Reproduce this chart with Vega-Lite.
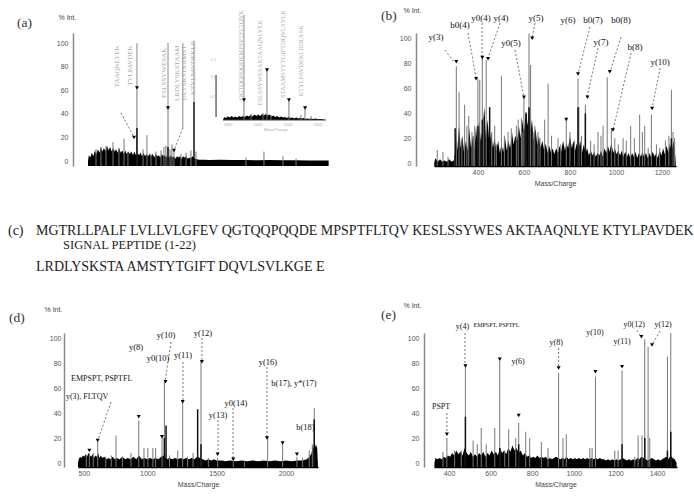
{
"$schema": "https://vega.github.io/schema/vega-lite/v6.json",
"background": "white",
"padding": {"left": 7, "top": 6, "right": 2, "bottom": 2},
"columns": 2,
"bounds": "flush",
"align": "each",
"spacing": {"row": 49, "column": 105},
"config": {
 "view": {"stroke": null},
 "axisX": {"format": "d", "domainColor": "#000", "domainWidth": 1.5, "ticks": false, "labelPadding": 2, "titlePadding": 4, "labelFontSize": 7, "labelColor": "#555", "labelFont": "Liberation Sans", "titleFont": "Liberation Sans", "titleFontSize": 7, "titleFontWeight": "normal", "titleColor": "#444", "grid": false},
 "axisY": {"format": "d", "domainColor": "#888", "domainWidth": 1.5, "ticks": false, "labelPadding": 5, "labelFontSize": 7, "labelColor": "#555", "labelFont": "Liberation Sans", "titleFont": "Liberation Sans", "titleFontSize": 7, "titleFontWeight": "normal", "titleColor": "#444", "titleAngle": 0, "titleAlign": "left", "titleBaseline": "middle", "grid": false}
},
"datasets": {
 "a_base": [{"mz":662,"int":0},{"mz":668,"int":5},{"mz":680,"int":3},{"mz":692,"int":7},{"mz":704,"int":4},{"mz":716,"int":9},{"mz":728,"int":6},{"mz":740,"int":10},{"mz":752,"int":7},{"mz":764,"int":12},{"mz":776,"int":8},{"mz":788,"int":11},{"mz":800,"int":8},{"mz":812,"int":13},{"mz":824,"int":9},{"mz":836,"int":12},{"mz":848,"int":8},{"mz":860,"int":11},{"mz":872,"int":8},{"mz":884,"int":10},{"mz":896,"int":7},{"mz":908,"int":11},{"mz":920,"int":7},{"mz":932,"int":9},{"mz":944,"int":6},{"mz":956,"int":9},{"mz":968,"int":6},{"mz":980,"int":8},{"mz":992,"int":6},{"mz":1004,"int":8},{"mz":1016,"int":5},{"mz":1028,"int":8},{"mz":1040,"int":5},{"mz":1052,"int":7},{"mz":1064,"int":5},{"mz":1076,"int":7},{"mz":1088,"int":4},{"mz":1100,"int":7},{"mz":1112,"int":4},{"mz":1124,"int":6},{"mz":1136,"int":4},{"mz":1148,"int":6},{"mz":1160,"int":4},{"mz":1172,"int":6},{"mz":1184,"int":3},{"mz":1196,"int":6},{"mz":1208,"int":4},{"mz":1220,"int":5},{"mz":1232,"int":3},{"mz":1244,"int":6},{"mz":1256,"int":4},{"mz":1268,"int":5},{"mz":1280,"int":3},{"mz":1292,"int":5},{"mz":1304,"int":3},{"mz":1316,"int":5},{"mz":1328,"int":3},{"mz":1340,"int":4},{"mz":1352,"int":2},{"mz":1364,"int":4},{"mz":1376,"int":3},{"mz":1388,"int":4},{"mz":1400,"int":2},{"mz":1412,"int":4},{"mz":1424,"int":3},{"mz":1436,"int":4},{"mz":1448,"int":2},{"mz":1460,"int":3},{"mz":1472,"int":2},{"mz":1484,"int":4},{"mz":1496,"int":3},{"mz":1508,"int":2},{"mz":1520,"int":1.5},{"mz":1540,"int":1},{"mz":1580,"int":1.2},{"mz":1620,"int":0.8},{"mz":1700,"int":1},{"mz":1800,"int":0.8},{"mz":1900,"int":0.9},{"mz":2000,"int":0.7},{"mz":2100,"int":0.8},{"mz":2200,"int":0.6},{"mz":2300,"int":0.6},{"mz":2400,"int":0.5},{"mz":2500,"int":0.5},{"mz":2560,"int":0.4}],
 "a_peaks": [{"mz":725,"int":10},{"mz":764,"int":12},{"mz":804,"int":13},{"mz":859,"int":16},{"mz":906,"int":11},{"mz":946,"int":19},{"mz":977,"int":8},{"mz":1048,"int":62},{"mz":1096,"int":10},{"mz":1127,"int":22},{"mz":1159,"int":6},{"mz":1198,"int":8},{"mz":1238,"int":9},{"mz":1261,"int":12},{"mz":1277,"int":13},{"mz":1293,"int":45},{"mz":1309,"int":10},{"mz":1324,"int":14},{"mz":1340,"int":9},{"mz":1395,"int":6},{"mz":1435,"int":7},{"mz":1474,"int":9},{"mz":1514,"int":8},{"mz":1908,"int":3},{"mz":2050,"int":8},{"mz":2200,"int":4},{"mz":2303,"int":2}],
 "a_dark": [{"mz":1048,"int":28},{"mz":1293,"int":12},{"mz":1498,"int":50}],
 "a_lead": [{"mz":1048,"int":62,"mz2":1048,"int2":100},{"mz":1293,"int":45,"mz2":1293,"int2":100},{"mz":1498,"int":50,"mz2":1498,"int2":102},{"mz":1410,"int":28,"mz2":1410,"int2":100}],
 "a_dash": [{"mz":922,"int":41,"mz2":1025,"int2":20},{"mz":1410,"int":28,"mz2":1340,"int2":9}],
 "a_marks": [{"mz":1048,"int":62},{"mz":1293,"int":45},{"mz":1025,"int":20},{"mz":1340,"int":9}],
 "a_seq": [{"mz":891,"int":98,"label":"TAAQNLYEK"},{"mz":994,"int":98,"label":"TYLPAVDEK"},{"mz":1261,"int":96,"label":"ESLSSYWESAK"},{"mz":1364,"int":98,"label":"LRDLYSKSTAAM"},{"mz":1419,"int":98,"label":"DLYSKSTAAMST"},{"mz":1490,"int":102,"label":"KTYLPAVDEKLR"}],
 "a_tag": [{"mz":102,"int":117,"label":"(a)"}],
 "ai_base": [{"mz":1727,"int":0},{"mz":1735,"int":6},{"mz":1750,"int":4},{"mz":1765,"int":7},{"mz":1780,"int":5},{"mz":1795,"int":8},{"mz":1810,"int":5},{"mz":1825,"int":7},{"mz":1840,"int":5},{"mz":1855,"int":8},{"mz":1870,"int":6},{"mz":1885,"int":8},{"mz":1900,"int":6},{"mz":1915,"int":9},{"mz":1930,"int":7},{"mz":1945,"int":10},{"mz":1960,"int":7},{"mz":1975,"int":11},{"mz":1990,"int":8},{"mz":2005,"int":11},{"mz":2020,"int":8},{"mz":2035,"int":12},{"mz":2050,"int":9},{"mz":2065,"int":12},{"mz":2080,"int":9},{"mz":2095,"int":11},{"mz":2110,"int":7},{"mz":2125,"int":9},{"mz":2140,"int":6},{"mz":2155,"int":8},{"mz":2170,"int":5},{"mz":2185,"int":7},{"mz":2200,"int":5},{"mz":2215,"int":6},{"mz":2230,"int":4},{"mz":2245,"int":6},{"mz":2260,"int":4},{"mz":2275,"int":5},{"mz":2290,"int":3},{"mz":2305,"int":5},{"mz":2320,"int":3},{"mz":2335,"int":4},{"mz":2350,"int":3},{"mz":2365,"int":4},{"mz":2380,"int":2},{"mz":2395,"int":3},{"mz":2410,"int":2},{"mz":2425,"int":3},{"mz":2440,"int":2},{"mz":2455,"int":3},{"mz":2470,"int":2},{"mz":2500,"int":2},{"mz":2539,"int":0}],
 "ai_peaks": [{"mz":1892,"int":40},{"mz":1948,"int":12},{"mz":2042,"int":14},{"mz":2074,"int":100},{"mz":2105,"int":10},{"mz":2247,"int":40},{"mz":2342,"int":10},{"mz":2374,"int":24},{"mz":2421,"int":8}],
 "ai_lead": [{"mz":1892,"int":40,"mz2":1892,"int2":210}],
 "ai_axis": [{"mz":1727,"int":0,"mz2":2539,"int2":0},{"mz":1672,"int":6,"mz2":1672,"int2":90}],
 "ai_marks": [{"mz":1892,"int":40},{"mz":2074,"int":100},{"mz":2247,"int":40},{"mz":2374,"int":24}],
 "ai_seq": [{"mz":1869,"int":220,"label":"QGTQQPQQDEMPSPTFLTQVK"},{"mz":2019,"int":200,"label":"ESLSSYWESAKTAAQNLYEK"},{"mz":2200,"int":220,"label":"STAAMSTYTGIFTDQVLSVLK"},{"mz":2342,"int":190,"label":"KTYLPAVDEKLRDLYSK"}],
 "ai_ticks": [{"mz":1650,"int":120,"label":"1.5"},{"mz":1650,"int":86,"label":"1.0"},{"mz":1650,"int":46,"label":"0.5"},{"mz":1766,"int":-9,"label":"1800"},{"mz":2003,"int":-9,"label":"2000"},{"mz":2240,"int":-9,"label":"2200"},{"mz":2476,"int":-9,"label":"2400"},{"mz":2145,"int":-19,"label":"Mass/Charge"}],
 "b_base": [{"mz":210,"int":0},{"mz":215,"int":4},{"mz":225,"int":1},{"mz":235,"int":3},{"mz":245,"int":1},{"mz":255,"int":2},{"mz":265,"int":1},{"mz":275,"int":3},{"mz":285,"int":1},{"mz":295,"int":2},{"mz":300,"int":8},{"mz":305,"int":25},{"mz":310,"int":10},{"mz":318,"int":30},{"mz":325,"int":12},{"mz":332,"int":22},{"mz":340,"int":8},{"mz":348,"int":18},{"mz":355,"int":10},{"mz":362,"int":28},{"mz":370,"int":12},{"mz":378,"int":22},{"mz":385,"int":10},{"mz":392,"int":30},{"mz":398,"int":15},{"mz":405,"int":34},{"mz":412,"int":18},{"mz":420,"int":28},{"mz":428,"int":45},{"mz":435,"int":20},{"mz":442,"int":35},{"mz":450,"int":15},{"mz":458,"int":25},{"mz":465,"int":12},{"mz":472,"int":20},{"mz":480,"int":10},{"mz":488,"int":18},{"mz":495,"int":8},{"mz":502,"int":15},{"mz":510,"int":9},{"mz":518,"int":20},{"mz":525,"int":10},{"mz":532,"int":18},{"mz":540,"int":12},{"mz":548,"int":25},{"mz":555,"int":15},{"mz":562,"int":22},{"mz":570,"int":18},{"mz":578,"int":30},{"mz":585,"int":20},{"mz":592,"int":35},{"mz":600,"int":25},{"mz":608,"int":42},{"mz":615,"int":30},{"mz":622,"int":45},{"mz":628,"int":25},{"mz":635,"int":35},{"mz":642,"int":18},{"mz":650,"int":28},{"mz":658,"int":15},{"mz":665,"int":22},{"mz":672,"int":12},{"mz":680,"int":18},{"mz":688,"int":10},{"mz":695,"int":16},{"mz":702,"int":8},{"mz":710,"int":14},{"mz":718,"int":8},{"mz":725,"int":12},{"mz":732,"int":7},{"mz":740,"int":12},{"mz":748,"int":8},{"mz":755,"int":14},{"mz":762,"int":9},{"mz":770,"int":18},{"mz":778,"int":10},{"mz":785,"int":16},{"mz":792,"int":12},{"mz":800,"int":22},{"mz":808,"int":12},{"mz":815,"int":18},{"mz":822,"int":10},{"mz":830,"int":16},{"mz":838,"int":12},{"mz":845,"int":18},{"mz":852,"int":8},{"mz":860,"int":15},{"mz":868,"int":8},{"mz":875,"int":12},{"mz":882,"int":6},{"mz":890,"int":10},{"mz":898,"int":6},{"mz":905,"int":9},{"mz":912,"int":5},{"mz":920,"int":8},{"mz":928,"int":6},{"mz":935,"int":10},{"mz":942,"int":5},{"mz":950,"int":12},{"mz":958,"int":8},{"mz":965,"int":14},{"mz":972,"int":9},{"mz":980,"int":16},{"mz":988,"int":8},{"mz":995,"int":12},{"mz":1002,"int":7},{"mz":1010,"int":10},{"mz":1018,"int":6},{"mz":1025,"int":10},{"mz":1032,"int":5},{"mz":1040,"int":9},{"mz":1048,"int":5},{"mz":1055,"int":8},{"mz":1062,"int":4},{"mz":1070,"int":8},{"mz":1078,"int":5},{"mz":1085,"int":9},{"mz":1092,"int":4},{"mz":1100,"int":8},{"mz":1108,"int":5},{"mz":1115,"int":9},{"mz":1122,"int":5},{"mz":1130,"int":8},{"mz":1138,"int":4},{"mz":1145,"int":8},{"mz":1152,"int":5},{"mz":1160,"int":9},{"mz":1168,"int":5},{"mz":1175,"int":8},{"mz":1182,"int":4},{"mz":1190,"int":10},{"mz":1198,"int":6},{"mz":1205,"int":12},{"mz":1212,"int":7},{"mz":1220,"int":14},{"mz":1228,"int":8},{"mz":1235,"int":16},{"mz":1242,"int":9},{"mz":1250,"int":18},{"mz":1256,"int":10},{"mz":1260,"int":0}],
 "b_peaks": [{"mz":223,"int":10.5},{"mz":248,"int":9},{"mz":270,"int":5},{"mz":299,"int":5},{"mz":306,"int":78},{"mz":318,"int":57},{"mz":330,"int":20},{"mz":342,"int":47},{"mz":352,"int":30},{"mz":360,"int":38},{"mz":374,"int":25},{"mz":380,"int":22},{"mz":386,"int":30},{"mz":400,"int":68},{"mz":408,"int":67},{"mz":419,"int":86},{"mz":425,"int":35},{"mz":436,"int":83},{"mz":460,"int":25},{"mz":473,"int":30},{"mz":480,"int":15},{"mz":502,"int":70},{"mz":515,"int":22},{"mz":531,"int":25},{"mz":545,"int":28},{"mz":567,"int":30},{"mz":575,"int":35},{"mz":589,"int":36},{"mz":595,"int":25},{"mz":600,"int":53},{"mz":610,"int":41},{"mz":622,"int":104.5},{"mz":629,"int":79},{"mz":640,"int":25},{"mz":647,"int":30},{"mz":661,"int":25},{"mz":670,"int":20},{"mz":690,"int":35},{"mz":705,"int":64},{"mz":720,"int":22},{"mz":748,"int":20},{"mz":760,"int":15},{"mz":784,"int":36},{"mz":800,"int":25},{"mz":820,"int":18},{"mz":835,"int":68},{"mz":839,"int":45},{"mz":850,"int":22},{"mz":867,"int":47},{"mz":890,"int":18},{"mz":905,"int":15},{"mz":922,"int":25},{"mz":935,"int":22},{"mz":944,"int":30},{"mz":962,"int":69},{"mz":980,"int":28},{"mz":995,"int":20},{"mz":1010,"int":15},{"mz":1031,"int":20},{"mz":1045,"int":18},{"mz":1064,"int":30},{"mz":1080,"int":20},{"mz":1103,"int":39},{"mz":1115,"int":25},{"mz":1125,"int":30},{"mz":1140,"int":12},{"mz":1154,"int":39},{"mz":1176,"int":15},{"mz":1190,"int":12},{"mz":1215,"int":18},{"mz":1230,"int":22},{"mz":1241,"int":59},{"mz":1248,"int":25},{"mz":1255,"int":20}],
 "b_dark": [{"mz":301,"int":28},{"mz":400,"int":30},{"mz":419,"int":35},{"mz":451,"int":45},{"mz":610,"int":40},{"mz":622,"int":45},{"mz":835,"int":45},{"mz":867,"int":40},{"mz":1241,"int":20}],
 "b_marks": [{"mz":306,"int":81.6},{"mz":392,"int":68},{"mz":419,"int":85},{"mz":444,"int":84},{"mz":600,"int":53},{"mz":636,"int":100.5},{"mz":784,"int":35},{"mz":835,"int":71.7},{"mz":876,"int":53},{"mz":973,"int":73.6},{"mz":987,"int":26.6},{"mz":1157,"int":44}],
 "b_dash": [{"mz":257,"int":91,"mz2":296,"int2":81.4},{"mz":357,"int":104.8,"mz2":392,"int2":68.5},{"mz":418,"int":112.8,"mz2":418,"int2":85.4},{"mz":496,"int":112.8,"mz2":444,"int2":84.6},{"mz":561,"int":91,"mz2":600,"int2":53},{"mz":648,"int":112.8,"mz2":635,"int2":100.7},{"mz":887,"int":109.6,"mz2":835,"int2":71.7},{"mz":922,"int":92.7,"mz2":874,"int2":53},{"mz":1022,"int":101.6,"mz2":974,"int2":73.3},{"mz":1066,"int":88.7,"mz2":987,"int2":26.6},{"mz":1192,"int":76.6,"mz2":1157,"int2":44.3}],
 "b_labels": [{"mz":217.7,"int":101.6,"label":"y(3)"},{"mz":322,"int":111,"label":"b0(4)"},{"mz":413,"int":117,"label":"y0(4)"},{"mz":500,"int":117,"label":"y(4)"},{"mz":544,"int":96.7,"label":"y0(5)"},{"mz":652.5,"int":117,"label":"y(5)"},{"mz":792,"int":115,"label":"y(6)"},{"mz":900,"int":115,"label":"b0(7)"},{"mz":935,"int":97.5,"label":"y(7)"},{"mz":1022,"int":115,"label":"b0(8)"},{"mz":1083,"int":93.5,"label":"b(8)"},{"mz":1192,"int":81.4,"label":"y(10)"}],
 "b_tag": [{"mz":-21,"int":118.5,"label":"(b)"}],
 "c_text": [{"indent":0,"line":1,"text":"(c)"},{"indent":3,"line":1,"text":"MGTRLLPALF LVLLVLGFEV QGTQQPQQDE MPSPTFLTQV KESLSSYWES AKTAAQNLYE KTYLPAVDEK"},{"indent":3,"line":2,"text":"LRDLYSKSTA AMSTYTGIFT DQVLSVLKGE E"}],
 "c_note": [{"indent":5.9,"line":1.4,"text":"SIGNAL PEPTIDE (1-22)"}],
 "d_base": [{"mz":500,"int":0},{"mz":505,"int":3},{"mz":515,"int":5},{"mz":525,"int":4},{"mz":535,"int":6},{"mz":545,"int":5},{"mz":555,"int":7},{"mz":565,"int":5},{"mz":575,"int":8},{"mz":585,"int":6},{"mz":595,"int":5},{"mz":605,"int":7},{"mz":615,"int":4},{"mz":625,"int":6},{"mz":635,"int":5},{"mz":645,"int":8},{"mz":655,"int":4},{"mz":665,"int":6},{"mz":675,"int":4},{"mz":690,"int":5},{"mz":705,"int":3},{"mz":720,"int":4},{"mz":735,"int":3},{"mz":750,"int":5},{"mz":765,"int":3},{"mz":780,"int":4},{"mz":800,"int":3},{"mz":820,"int":5},{"mz":840,"int":3},{"mz":860,"int":4},{"mz":880,"int":3},{"mz":900,"int":5},{"mz":920,"int":3},{"mz":940,"int":6},{"mz":960,"int":3},{"mz":980,"int":4},{"mz":1000,"int":3},{"mz":1020,"int":4},{"mz":1040,"int":3},{"mz":1060,"int":4},{"mz":1080,"int":3},{"mz":1100,"int":5},{"mz":1120,"int":6},{"mz":1140,"int":3},{"mz":1160,"int":4},{"mz":1180,"int":3},{"mz":1200,"int":4},{"mz":1220,"int":3},{"mz":1240,"int":4},{"mz":1260,"int":3},{"mz":1280,"int":4},{"mz":1300,"int":3},{"mz":1320,"int":4},{"mz":1340,"int":3},{"mz":1360,"int":5},{"mz":1380,"int":4},{"mz":1400,"int":3},{"mz":1420,"int":2},{"mz":1440,"int":3},{"mz":1460,"int":2},{"mz":1480,"int":3},{"mz":1500,"int":2},{"mz":1540,"int":2},{"mz":1560,"int":1.5},{"mz":1600,"int":2},{"mz":1640,"int":1.5},{"mz":1680,"int":2},{"mz":1720,"int":1.5},{"mz":1760,"int":2},{"mz":1800,"int":1.5},{"mz":1840,"int":2},{"mz":1880,"int":1.5},{"mz":1920,"int":2},{"mz":1960,"int":1.5},{"mz":2000,"int":2},{"mz":2040,"int":1.5},{"mz":2080,"int":2},{"mz":2120,"int":2},{"mz":2150,"int":3},{"mz":2170,"int":5},{"mz":2185,"int":8},{"mz":2195,"int":14},{"mz":2205,"int":10},{"mz":2215,"int":15},{"mz":2225,"int":12},{"mz":2230,"int":0}],
 "d_peaks": [{"mz":560,"int":6},{"mz":582,"int":8},{"mz":610,"int":8},{"mz":642,"int":17},{"mz":700,"int":5},{"mz":740,"int":6},{"mz":774,"int":22},{"mz":820,"int":5},{"mz":882,"int":8},{"mz":938,"int":34},{"mz":976,"int":12},{"mz":1004,"int":12},{"mz":1040,"int":12},{"mz":1060,"int":12},{"mz":1106,"int":22},{"mz":1123,"int":65},{"mz":1160,"int":6},{"mz":1219,"int":10},{"mz":1255,"int":49},{"mz":1290,"int":5},{"mz":1330,"int":8},{"mz":1387,"int":82},{"mz":1440,"int":4},{"mz":1507,"int":4},{"mz":1620,"int":2},{"mz":1700,"int":2},{"mz":1868,"int":20},{"mz":1976,"int":15},{"mz":2079,"int":5},{"mz":2120,"int":4},{"mz":2168,"int":10},{"mz":2190,"int":15},{"mz":2204,"int":44}],
 "d_dark": [{"mz":1123,"int":20},{"mz":1135,"int":30},{"mz":1363,"int":43},{"mz":1387,"int":15},{"mz":2204,"int":35}],
 "d_marks": [{"mz":582,"int":10},{"mz":642,"int":18},{"mz":938,"int":37},{"mz":1106,"int":21},{"mz":1131,"int":65},{"mz":1255,"int":49},{"mz":1394,"int":81},{"mz":1507,"int":7},{"mz":1620,"int":3},{"mz":1863,"int":20},{"mz":1976,"int":16},{"mz":2079,"int":7}],
 "d_dash": [{"mz":738,"int":48.8,"mz2":644,"int2":18.4},{"mz":1171,"int":96.8,"mz2":1127,"int2":64.8},{"mz":1257,"int":80.8,"mz2":1257,"int2":48.8},{"mz":1394,"int":100,"mz2":1394,"int2":80.8},{"mz":1510,"int":34.4,"mz2":1510,"int2":7.2},{"mz":1618,"int":44,"mz2":1618,"int2":3.2},{"mz":1863,"int":76.8,"mz2":1863,"int2":20}],
 "d_labels": [{"mz":918,"int":92.8,"label":"y(8)"},{"mz":1135,"int":102.4,"label":"y(10)"},{"mz":1077,"int":84,"label":"y0(10)"},{"mz":1257,"int":86.4,"label":"y(11)"},{"mz":1401,"int":104,"label":"y(12)"},{"mz":1510,"int":38.4,"label":"y(13)"},{"mz":1639,"int":48,"label":"y0(14)"},{"mz":1870,"int":80.8,"label":"y(16)"},{"mz":2058,"int":64,"label":"b(17), y*(17)"},{"mz":2140,"int":28.8,"label":"b(18)"}],
 "d_labels_left": [{"mz":450,"int":67.2,"label":"EMPSPT, PSPTFL"},{"mz":413,"int":52.8,"label":"y(3), FLTQV"}],
 "d_tag": [{"mz":2.4,"int":116,"label":"(d)"}],
 "e_base": [{"mz":330,"int":0},{"mz":335,"int":4},{"mz":345,"int":3},{"mz":355,"int":4},{"mz":365,"int":3},{"mz":375,"int":5},{"mz":385,"int":4},{"mz":395,"int":6},{"mz":405,"int":5},{"mz":415,"int":8},{"mz":425,"int":6},{"mz":435,"int":10},{"mz":445,"int":7},{"mz":455,"int":9},{"mz":465,"int":6},{"mz":475,"int":12},{"mz":485,"int":8},{"mz":495,"int":6},{"mz":505,"int":9},{"mz":515,"int":5},{"mz":525,"int":7},{"mz":535,"int":5},{"mz":545,"int":8},{"mz":555,"int":6},{"mz":565,"int":9},{"mz":575,"int":5},{"mz":585,"int":8},{"mz":595,"int":6},{"mz":605,"int":10},{"mz":615,"int":7},{"mz":625,"int":9},{"mz":635,"int":6},{"mz":645,"int":12},{"mz":655,"int":8},{"mz":665,"int":10},{"mz":675,"int":7},{"mz":685,"int":12},{"mz":695,"int":9},{"mz":705,"int":14},{"mz":715,"int":10},{"mz":725,"int":12},{"mz":735,"int":8},{"mz":745,"int":10},{"mz":755,"int":6},{"mz":765,"int":8},{"mz":775,"int":5},{"mz":785,"int":6},{"mz":795,"int":4},{"mz":805,"int":5},{"mz":815,"int":4},{"mz":825,"int":6},{"mz":835,"int":4},{"mz":845,"int":5},{"mz":855,"int":4},{"mz":865,"int":5},{"mz":875,"int":3},{"mz":885,"int":4},{"mz":895,"int":3},{"mz":905,"int":4},{"mz":915,"int":5},{"mz":925,"int":4},{"mz":935,"int":3},{"mz":945,"int":4},{"mz":955,"int":3},{"mz":965,"int":5},{"mz":975,"int":3},{"mz":985,"int":4},{"mz":995,"int":3},{"mz":1005,"int":4},{"mz":1015,"int":3},{"mz":1025,"int":4},{"mz":1035,"int":3},{"mz":1045,"int":4},{"mz":1055,"int":3},{"mz":1065,"int":4},{"mz":1075,"int":3},{"mz":1085,"int":4},{"mz":1095,"int":3},{"mz":1105,"int":4},{"mz":1115,"int":3},{"mz":1125,"int":4},{"mz":1135,"int":3},{"mz":1145,"int":3},{"mz":1155,"int":2},{"mz":1165,"int":3},{"mz":1175,"int":2},{"mz":1185,"int":3},{"mz":1195,"int":2},{"mz":1205,"int":3},{"mz":1215,"int":2},{"mz":1225,"int":3},{"mz":1235,"int":4},{"mz":1245,"int":3},{"mz":1255,"int":2},{"mz":1265,"int":3},{"mz":1275,"int":2},{"mz":1285,"int":3},{"mz":1295,"int":2},{"mz":1305,"int":4},{"mz":1315,"int":3},{"mz":1325,"int":5},{"mz":1335,"int":4},{"mz":1345,"int":3},{"mz":1355,"int":2},{"mz":1365,"int":3},{"mz":1375,"int":4},{"mz":1385,"int":3},{"mz":1395,"int":2},{"mz":1405,"int":3},{"mz":1415,"int":2},{"mz":1425,"int":3},{"mz":1435,"int":4},{"mz":1445,"int":5},{"mz":1455,"int":3},{"mz":1465,"int":6},{"mz":1475,"int":4},{"mz":1485,"int":3},{"mz":1494,"int":0}],
 "e_peaks": [{"mz":371,"int":9},{"mz":390,"int":20},{"mz":427,"int":10},{"mz":459,"int":10},{"mz":479,"int":78},{"mz":516,"int":18},{"mz":536,"int":15},{"mz":555,"int":28},{"mz":579,"int":15},{"mz":620,"int":28},{"mz":644,"int":82},{"mz":668,"int":10},{"mz":687,"int":27},{"mz":721,"int":20},{"mz":735,"int":32},{"mz":769,"int":25},{"mz":788,"int":20},{"mz":844,"int":17},{"mz":876,"int":12},{"mz":927,"int":72},{"mz":948,"int":20},{"mz":964,"int":23},{"mz":1077,"int":12},{"mz":1088,"int":12},{"mz":1104,"int":69},{"mz":1197,"int":10},{"mz":1213,"int":10},{"mz":1232,"int":74},{"mz":1293,"int":5},{"mz":1309,"int":22},{"mz":1328,"int":22},{"mz":1341,"int":99},{"mz":1357,"int":93},{"mz":1365,"int":20},{"mz":1450,"int":85},{"mz":1466,"int":104}],
 "e_dark": [{"mz":479,"int":37},{"mz":644,"int":12},{"mz":735,"int":15},{"mz":1232,"int":15},{"mz":1341,"int":20},{"mz":1450,"int":10},{"mz":1466,"int":25}],
 "e_marks": [{"mz":390,"int":23},{"mz":479,"int":77.6},{"mz":644,"int":83},{"mz":735,"int":38},{"mz":927,"int":76},{"mz":1104,"int":73},{"mz":1232,"int":77},{"mz":1325,"int":101},{"mz":1376,"int":94.4}],
 "e_dash": [{"mz":390,"int":40,"mz2":390,"int2":23.2},{"mz":477,"int":104,"mz2":477,"int2":77.6},{"mz":927,"int":92,"mz2":927,"int2":76},{"mz":1304,"int":106,"mz2":1323,"int2":101},{"mz":1414,"int":105.6,"mz2":1376,"int2":94.4}],
 "e_labels": [{"mz":362,"int":44.8,"label":"PSPT"},{"mz":465,"int":108.8,"label":"y(4)"},{"mz":732,"int":80.8,"label":"y(6)"},{"mz":915,"int":96,"label":"y(8)"},{"mz":1102,"int":104,"label":"y(10)"},{"mz":1232,"int":96.8,"label":"y(11)"},{"mz":1290,"int":110.4,"label":"y0(12)"},{"mz":1429,"int":110.4,"label":"y(12)"}],
 "e_labels_small": [{"mz":628,"int":110.4,"label":"EMPSPT, PSPTFL"}],
 "e_tag": [{"mz":73,"int":118.4,"label":"(e)"}]
},
"concat": [
 {
  "width": 251, "height": 133,
  "resolve": {"scale": {"y": "independent"}},
  "layer": [
   {
    "encoding": {
     "x": {"field": "mz", "type": "quantitative", "scale": {"domain": [583, 2563], "nice": false, "zero": false}, "axis": {"values": [1000, 1500, 2000, 2500], "title": "Mass/Charge"}},
     "y": {"field": "int", "type": "quantitative", "scale": {"domain": [-4.2, 108.5], "nice": false, "zero": false}, "axis": {"values": [0, 20, 40, 60, 80, 100], "offset": 5, "title": "% Int.", "titleX": -15, "titleY": -16}}
    },
    "layer": [
     {"data": {"name": "a_base"}, "mark": {"type": "area", "color": "#000"}, "encoding": {"y2": {"datum": -4.2}}},
     {"data": {"name": "a_peaks"}, "mark": {"type": "rule", "color": "#777", "strokeWidth": 1}, "encoding": {"y2": {"datum": -4.2}}},
     {"data": {"name": "a_dark"}, "mark": {"type": "rule", "color": "#111", "strokeWidth": 1.5}, "encoding": {"y2": {"datum": -4.2}}},
     {"data": {"name": "a_lead"}, "mark": {"type": "rule", "color": "#888", "strokeWidth": 1}, "encoding": {"x2": {"field": "mz2"}, "y2": {"field": "int2"}}},
     {"data": {"name": "a_dash"}, "mark": {"type": "rule", "color": "#777", "strokeWidth": 1, "strokeDash": [2, 2]}, "encoding": {"x2": {"field": "mz2"}, "y2": {"field": "int2"}}},
     {"data": {"name": "a_marks"}, "mark": {"type": "point", "shape": "triangle-down", "filled": true, "color": "#000", "size": 16, "opacity": 1}, "encoding": {}},
     {"data": {"name": "a_seq"}, "mark": {"type": "text", "angle": 270, "align": "right", "baseline": "middle", "font": "Liberation Serif", "fontSize": 7, "color": "#aaa"}, "encoding": {"text": {"field": "label"}}},
     {"data": {"name": "a_tag"}, "mark": {"type": "text", "align": "left", "baseline": "middle", "font": "Liberation Serif", "fontSize": 13.5, "color": "#333"}, "encoding": {"text": {"field": "label"}}}
    ]
   },
   {
    "encoding": {
     "x": {"field": "mz", "type": "quantitative", "scale": {"domain": [583, 2563], "nice": false, "zero": false}, "axis": null},
     "y": {"field": "int", "type": "quantitative", "scale": {"domain": [-92, 174], "nice": false, "zero": false}, "axis": null}
    },
    "layer": [
     {"data": {"name": "ai_base"}, "mark": {"type": "area", "color": "#000"}, "encoding": {"y2": {"datum": 0}}},
     {"data": {"name": "ai_peaks"}, "mark": {"type": "rule", "color": "#777", "strokeWidth": 1}, "encoding": {"y2": {"datum": 0}}},
     {"data": {"name": "ai_lead"}, "mark": {"type": "rule", "color": "#888", "strokeWidth": 1}, "encoding": {"x2": {"field": "mz2"}, "y2": {"field": "int2"}}},
     {"data": {"name": "ai_axis"}, "mark": {"type": "rule", "color": "#444", "strokeWidth": 1.2}, "encoding": {"x2": {"field": "mz2"}, "y2": {"field": "int2"}}},
     {"data": {"name": "ai_marks"}, "mark": {"type": "point", "shape": "triangle-down", "filled": true, "color": "#000", "size": 16, "opacity": 1}, "encoding": {}},
     {"data": {"name": "ai_seq"}, "mark": {"type": "text", "angle": 270, "align": "right", "baseline": "middle", "font": "Liberation Serif", "fontSize": 6.5, "color": "#aaa"}, "encoding": {"text": {"field": "label"}}},
     {"data": {"name": "ai_ticks"}, "mark": {"type": "text", "align": "center", "baseline": "middle", "font": "Liberation Sans", "fontSize": 4, "color": "#aaa"}, "encoding": {"text": {"field": "label"}}}
    ]
   }
  ]
 },
 {
  "width": 242, "height": 133,
  "encoding": {
   "x": {"field": "mz", "type": "quantitative", "scale": {"domain": [209, 1261], "nice": false, "zero": false}, "axis": {"values": [400, 600, 800, 1000, 1200], "title": "Mass/Charge"}},
   "y": {"field": "int", "type": "quantitative", "scale": {"domain": [-2.4, 104.8], "nice": false, "zero": false}, "axis": {"values": [0, 20, 40, 60, 80, 100], "offset": 18, "title": "% Int.", "titleX": -13, "titleY": -23}}
  },
  "layer": [
   {"data": {"name": "b_base"}, "mark": {"type": "area", "color": "#000"}, "encoding": {"y2": {"datum": -2.4}}},
   {"data": {"name": "b_peaks"}, "mark": {"type": "rule", "color": "#777", "strokeWidth": 1}, "encoding": {"y2": {"datum": -2.4}}},
   {"data": {"name": "b_dark"}, "mark": {"type": "rule", "color": "#111", "strokeWidth": 1.5}, "encoding": {"y2": {"datum": -2.4}}},
   {"data": {"name": "b_dash"}, "mark": {"type": "rule", "color": "#777", "strokeWidth": 1, "strokeDash": [2, 2]}, "encoding": {"x2": {"field": "mz2"}, "y2": {"field": "int2"}}},
   {"data": {"name": "b_marks"}, "mark": {"type": "point", "shape": "triangle-down", "filled": true, "color": "#000", "size": 16, "opacity": 1}, "encoding": {}},
   {"data": {"name": "b_labels"}, "mark": {"type": "text", "align": "center", "baseline": "middle", "font": "Liberation Serif", "fontSize": 9, "color": "#111"}, "encoding": {"text": {"field": "label"}}},
   {"data": {"name": "b_tag"}, "mark": {"type": "text", "align": "left", "baseline": "middle", "font": "Liberation Serif", "fontSize": 13.5, "color": "#333"}, "encoding": {"text": {"field": "label"}}}
  ]
 },
 {
  "width": 251, "height": 69,
  "encoding": {
   "x": {"field": "indent", "type": "quantitative", "scale": {"domain": [7.5, 34.39], "nice": false, "zero": false}, "axis": null},
   "y": {"field": "line", "type": "quantitative", "scale": {"domain": [0.444, 2.361], "reverse": true, "nice": false, "zero": false}, "axis": null},
   "text": {"field": "text"}
  },
  "layer": [
   {"data": {"name": "c_text"}, "mark": {"type": "text", "align": "left", "baseline": "alphabetic", "font": "Liberation Serif", "fontSize": 14, "color": "#222"}},
   {"data": {"name": "c_note"}, "mark": {"type": "text", "align": "left", "baseline": "alphabetic", "font": "Liberation Serif", "fontSize": 12.5, "color": "#222"}}
  ]
 },
 {
  "width": 243, "height": 69,
  "data": {"values": [{"t": ""}]},
  "mark": {"type": "text"},
  "encoding": {"text": {"field": "t"}}
 },
 {
  "width": 240, "height": 134,
  "encoding": {
   "x": {"field": "mz", "type": "quantitative", "scale": {"domain": [500, 2231], "nice": false, "zero": false}, "axis": {"values": [500, 1000, 1500, 2000], "title": "Mass/Charge"}},
   "y": {"field": "int", "type": "quantitative", "scale": {"domain": [-3.2, 104], "nice": false, "zero": false}, "axis": {"values": [0, 20, 40, 60, 80, 100], "offset": 14, "labelPadding": 3, "title": "% Int.", "titleX": -20, "titleY": -24}}
  },
  "layer": [
   {"data": {"name": "d_base"}, "mark": {"type": "area", "color": "#000"}, "encoding": {"y2": {"datum": -3.2}}},
   {"data": {"name": "d_peaks"}, "mark": {"type": "rule", "color": "#777", "strokeWidth": 1}, "encoding": {"y2": {"datum": -3.2}}},
   {"data": {"name": "d_dark"}, "mark": {"type": "rule", "color": "#111", "strokeWidth": 1.5}, "encoding": {"y2": {"datum": -3.2}}},
   {"data": {"name": "d_dash"}, "mark": {"type": "rule", "color": "#777", "strokeWidth": 1, "strokeDash": [2, 2]}, "encoding": {"x2": {"field": "mz2"}, "y2": {"field": "int2"}}},
   {"data": {"name": "d_marks"}, "mark": {"type": "point", "shape": "triangle-down", "filled": true, "color": "#000", "size": 16, "opacity": 1}, "encoding": {}},
   {"data": {"name": "d_labels"}, "mark": {"type": "text", "align": "center", "baseline": "middle", "font": "Liberation Serif", "fontSize": 8.5, "color": "#111"}, "encoding": {"text": {"field": "label"}}},
   {"data": {"name": "d_labels_left"}, "mark": {"type": "text", "align": "left", "baseline": "middle", "font": "Liberation Serif", "fontSize": 8, "color": "#111"}, "encoding": {"text": {"field": "label"}}},
   {"data": {"name": "d_tag"}, "mark": {"type": "text", "align": "left", "baseline": "middle", "font": "Liberation Serif", "fontSize": 13.5, "color": "#333"}, "encoding": {"text": {"field": "label"}}}
  ]
 },
 {
  "width": 243, "height": 134,
  "encoding": {
   "x": {"field": "mz", "type": "quantitative", "scale": {"domain": [328, 1496], "nice": false, "zero": false}, "axis": {"values": [400, 600, 800, 1000, 1200, 1400], "title": "Mass/Charge"}},
   "y": {"field": "int", "type": "quantitative", "scale": {"domain": [-3.2, 104], "nice": false, "zero": false}, "axis": {"values": [0, 20, 40, 60, 80, 100], "offset": 10, "title": "% Int.", "titleX": -21, "titleY": -28}}
  },
  "layer": [
   {"data": {"name": "e_base"}, "mark": {"type": "area", "color": "#000"}, "encoding": {"y2": {"datum": -3.2}}},
   {"data": {"name": "e_peaks"}, "mark": {"type": "rule", "color": "#777", "strokeWidth": 1}, "encoding": {"y2": {"datum": -3.2}}},
   {"data": {"name": "e_dark"}, "mark": {"type": "rule", "color": "#111", "strokeWidth": 1.5}, "encoding": {"y2": {"datum": -3.2}}},
   {"data": {"name": "e_dash"}, "mark": {"type": "rule", "color": "#777", "strokeWidth": 1, "strokeDash": [2, 2]}, "encoding": {"x2": {"field": "mz2"}, "y2": {"field": "int2"}}},
   {"data": {"name": "e_marks"}, "mark": {"type": "point", "shape": "triangle-down", "filled": true, "color": "#000", "size": 16, "opacity": 1}, "encoding": {}},
   {"data": {"name": "e_labels"}, "mark": {"type": "text", "align": "center", "baseline": "middle", "font": "Liberation Serif", "fontSize": 8, "color": "#111"}, "encoding": {"text": {"field": "label"}}},
   {"data": {"name": "e_labels_small"}, "mark": {"type": "text", "align": "center", "baseline": "middle", "font": "Liberation Serif", "fontSize": 6, "color": "#111"}, "encoding": {"text": {"field": "label"}}},
   {"data": {"name": "e_tag"}, "mark": {"type": "text", "align": "left", "baseline": "middle", "font": "Liberation Serif", "fontSize": 13.5, "color": "#333"}, "encoding": {"text": {"field": "label"}}}
  ]
 }
]
}
